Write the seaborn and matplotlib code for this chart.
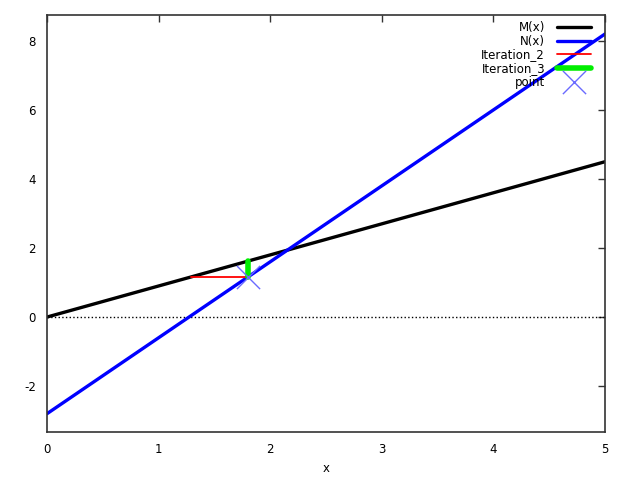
import numpy as np
import pandas as pd
import matplotlib
matplotlib.use("Agg")
import matplotlib.pyplot as plt
import seaborn as sns

# data
m_x = [0, 5]
m_y = [0, 4.5]
n_x = [0, 5]
n_y = [-2.8, 8.2]
iter2_x = [1.2889, 1.8]
iter2_y = [1.16, 1.16]
iter3_x = [1.8, 1.8]
iter3_y = [1.16, 1.62]
point_x = [1.8]
point_y = [1.16]

sns.set_style("white")
plt.rcParams['font.family'] = ['DejaVu Sans']
plt.rcParams['font.size'] = 8.5
plt.rcParams['text.color'] = 'black'
plt.rcParams['axes.labelcolor'] = 'black'
plt.rcParams['axes.unicode_minus'] = False

fig = plt.figure(figsize=(6.4, 4.78), dpi=100)
ax = fig.add_axes([47/640, 1-432/478, (605-47)/640, (432-15)/478])

ax.axhline(0, color='black', ls=':', lw=1, zorder=1)
sns.lineplot(x=m_x, y=m_y, ax=ax, color='black', lw=2.4, label='M(x)')
sns.lineplot(x=n_x, y=n_y, ax=ax, color='#0000ff', lw=2.4, label='N(x)')
sns.lineplot(x=iter2_x, y=iter2_y, ax=ax, color='#ff0000', lw=1.3, label='Iteration_2',
             estimator=None, sort=False)
sns.lineplot(x=iter3_x, y=iter3_y, ax=ax, color='#00ee00', lw=4, label='Iteration_3',
             estimator=None, sort=False, solid_capstyle='round')
sns.scatterplot(x=point_x, y=point_y, ax=ax, marker='x', s=280, color='#6a6aff',
                linewidth=1, label='point', zorder=5)

ax.set_xlim(0, 5)
ax.set_ylim(-3.33, 8.75)
ax.set_xticks([0, 1, 2, 3, 4, 5])
ax.set_yticks([-2, 0, 2, 4, 6, 8])
ax.set_xlabel('x')
ax.set_ylabel('')
ax.tick_params(direction='in', length=5, width=1, top=True, right=True, pad=8, colors='#333333',
               labelcolor='black')
for s in ax.spines.values():
    s.set_linewidth(1.2)
    s.set_color('#333333')

ax.legend(loc='upper right', bbox_to_anchor=(0.99, 1.005), markerfirst=False, frameon=False,
          handlelength=2.9, labelspacing=0.05, borderaxespad=0.3, handletextpad=1.0,
          fontsize=8.5)

fig.savefig('out.png', dpi=100)
